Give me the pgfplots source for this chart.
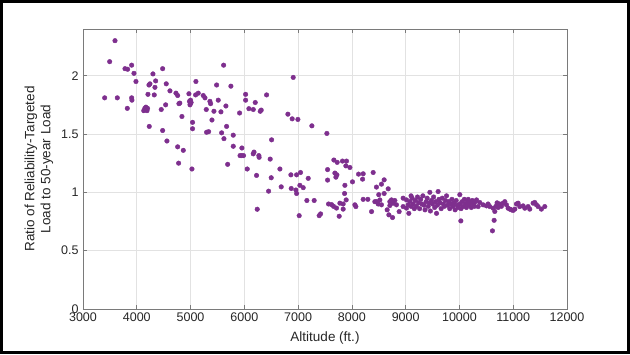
\documentclass[border=0pt]{standalone}
\usepackage{pgfplots}
\pgfplotsset{compat=1.18}
\usepackage{fontspec}
\setmainfont{Liberation Sans}
\definecolor{mpurple}{HTML}{7E2F8E}
\definecolor{axgray}{HTML}{7A7A7A}
\definecolor{gridgray}{HTML}{E2E2E2}
\definecolor{txt}{HTML}{262626}
\pgfplotstableread{
x y
3403 1.81
3496 2.12
3595 2.30
3638 1.81
3781 2.06
3830 2.055
3824 1.72
3905 2.09
3905 1.81
3910 1.79
3948 2.02
3985 1.95
4150 1.72
4170 1.73
4190 1.70
4130 1.70
4200 1.72
4208 1.84
4227 1.92
4245 1.93
4232 1.565
4301 2.015
4325 1.835
4338 1.90
4351 1.955
4455 1.71
4481 2.06
4481 1.53
4537 1.75
4548 1.93
4561 1.44
4617 1.87
4729 1.85
4760 1.83
4760 1.39
4778 1.25
4784 1.76
4800 1.765
4840 1.65
4865 1.36
4970 1.845
4980 1.78
4995 1.76
5000 1.79
5010 1.77
4990 1.75
5026 1.20
5037 1.60
5037 1.545
5094 1.835
5100 1.95
5143 1.85
5236 1.83
5268 1.81
5292 1.71
5298 1.515
5336 1.52
5360 1.78
5373 1.76
5398 1.62
5435 1.695
5485 1.92
5515 1.79
5565 1.69
5578 1.51
5615 2.09
5621 1.46
5658 1.74
5670 1.565
5690 1.24
5750 1.91
5794 1.49
5794 1.395
5912 1.68
5920 1.315
5950 1.315
5955 1.38
5985 1.315
6024 1.84
6024 1.79
6054 1.20
6085 1.717
6166 1.71
6166 1.33
6180 1.345
6203 1.77
6227 1.145
6240 0.855
6270 1.315
6275 1.30
6296 1.695
6314 1.705
6414 1.835
6451 1.01
6481 1.285
6500 1.125
6507 1.45
6662 1.20
6686 1.047
6810 1.67
6866 1.15
6872 1.033
6890 1.63
6909 1.985
6959 1.02
6972 1.15
6972 0.99
6996 1.625
7020 0.80
7033 1.06
7045 1.17
7095 1.04
7163 0.93
7188 1.12
7256 1.57
7299 0.93
7392 0.80
7418 0.815
7535 1.505
7548 1.195
7548 1.105
7566 0.90
7622 0.895
7659 0.88
7665 1.277
7684 1.165
7703 1.13
7714 0.865
7721 1.15
7727 1.257
7764 0.795
7777 0.907
7825 1.268
7838 0.90
7838 0.856
7864 0.99
7870 1.06
7888 1.227
7894 0.935
7900 1.268
7963 1.213
8011 1.09
8056 0.893
8074 0.878
8124 1.156
8199 1.113
8210 1.159
8210 0.94
8297 0.94
8366 0.835
8396 1.17
8427 0.92
8457 0.92
8457 1.045
8489 0.90
8500 0.98
8520 0.935
8550 1.07
8550 0.893
8600 1.107
8600 0.99
8656 0.85
8675 1.03
8688 0.807
8706 0.92
8706 0.887
8736 0.935
8756 0.784
8768 0.907
8799 0.93
8829 0.893
8879 0.835
8953 0.95
8953 0.878
9015 0.935
9015 0.865
9047 0.893
9059 0.82
9080 0.92
9100 0.88
9120 0.95
9140 0.90
9160 0.86
9100 0.97
9180 0.93
9200 0.88
9220 0.96
9240 0.91
9260 0.86
9280 0.94
9300 0.90
9320 0.97
9340 0.89
9360 0.85
9380 0.92
9400 0.95
9420 0.88
9440 0.91
9450 1.00
9460 0.84
9480 0.93
9500 0.90
9520 0.96
9540 0.87
9560 0.92
9574 0.82
9590 0.89
9604 1.007
9620 0.94
9640 0.91
9660 0.86
9680 0.95
9700 0.90
9720 0.88
9740 0.93
9760 0.97
9780 0.89
9800 0.92
9820 0.86
9840 0.90
9860 0.94
9880 0.88
9900 0.91
9920 0.85
9940 0.93
9960 0.89
9980 0.87
10007 0.98
10026 0.755
10010 0.90
10030 0.86
10050 0.92
10070 0.88
10090 0.94
10110 0.90
10130 0.87
10150 0.92
10162 0.94
10180 0.89
10200 0.91
10220 0.87
10240 0.93
10260 0.90
10280 0.88
10300 0.92
10318 0.935
10379 0.913
10348 0.878
10440 0.893
10502 0.884
10533 0.90
10565 0.878
10627 0.864
10658 0.836
10614 0.67
10645 0.76
10680 0.88
10700 0.91
10720 0.87
10750 0.90
10780 0.88
10812 0.907
10844 0.92
10874 0.893
10905 0.864
10937 0.856
10967 0.85
10998 0.845
11030 0.856
11060 0.90
11091 0.907
11122 0.878
11184 0.884
11216 0.864
11277 0.878
11308 0.856
11370 0.907
11401 0.913
11432 0.893
11463 0.878
11524 0.856
11587 0.878
}\pts
\begin{document}
\begin{tikzpicture}[x=1pt,y=1pt]
\useasboundingbox (0,0) rectangle (630,354);
\begin{axis}[
  at={(83pt,45pt)}, anchor=south west,
  width=484pt, height=280pt, scale only axis,
  xmin=3000, xmax=12000, ymin=0, ymax=2.4,
  xtick={3000,4000,...,12000},
  ytick={0,0.5,1,1.5,2},
  scaled x ticks=false,
  /pgf/number format/1000 sep={},
  /pgf/number format/assume math mode=true,
  tick label style={font=\fontsize{12.5}{14}\selectfont, text=txt},
  label style={font=\fontsize{13.5}{16}\selectfont, text=txt},
  xticklabel style={yshift=0pt},
  yticklabel style={xshift=-1pt},
  tick pos=both, tick align=inside,
  major tick length=4pt,
  axis line style={axgray, line width=0.8pt},
  every tick/.style={axgray, line width=0.6pt},
  grid=major,
  major grid style={gridgray, line width=0.7pt},
  xlabel={Altitude (ft.)},
  ylabel={Ratio of Reliability-Targeted\\Load to 50-year Load},
  ylabel style={align=center, at={(axis description cs:-0.091,0.5)}, anchor=center},
  xlabel style={at={(axis description cs:0.5,-0.104)}, anchor=center},
]
\addplot[only marks, mark=*, mark size=2.3pt, mpurple, mark options={draw=mpurple, fill=mpurple}] table[x=x,y=y] {\pts};
\end{axis}
\draw[line width=3pt, black] (1.5,1.5) rectangle (628.5,352.5);
\end{tikzpicture}
\end{document}
